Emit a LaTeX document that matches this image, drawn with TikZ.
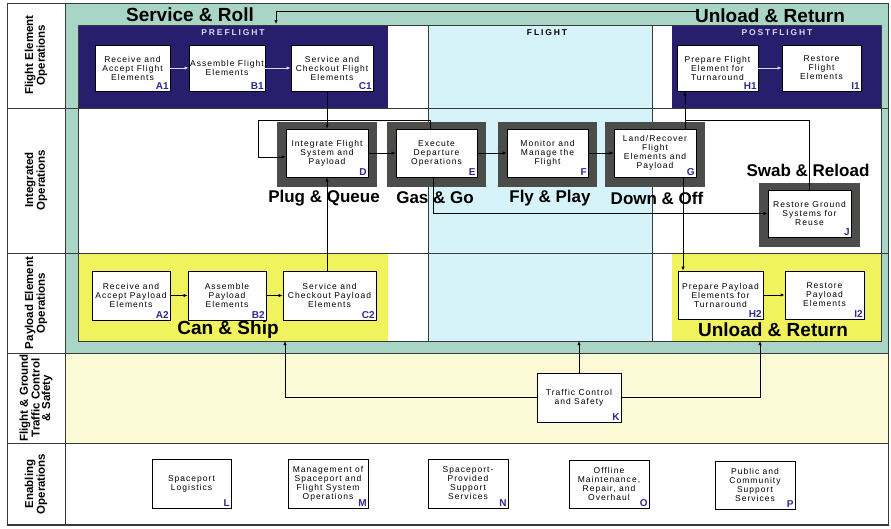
\documentclass[tikz,border=0pt]{standalone}
\usepackage{fontspec}
\setmainfont{Liberation Sans}
\newfontfamily\boxfont[LetterSpace=12]{Liberation Sans}
\newfontfamily\hdrfont[LetterSpace=22]{Liberation Sans}
\usetikzlibrary{arrows.meta,calc}
\definecolor{tealbg}{HTML}{A8D5C5}
\definecolor{navy}{HTML}{281E6E}
\definecolor{lblue}{HTML}{D7F3FA}
\definecolor{ybox}{HTML}{F0F35E}
\definecolor{lyellow}{HTML}{FCF9D7}
\definecolor{framegray}{HTML}{4B4D4B}
\definecolor{tagblue}{HTML}{2E2A90}
\definecolor{hdrtext}{HTML}{D8D8F4}
\definecolor{linegray}{HTML}{3A3A3A}
\pgfdeclarelayer{back}
\pgfdeclarelayer{mid}
\pgfsetlayers{back,mid,main}
\begin{document}
\begin{tikzpicture}[x=1pt,y=-1pt,
  box/.style={draw=black, line width=0.7pt, fill=white, align=center, inner sep=1pt,
     font=\boxfont\fontsize{8.5}{9}\selectfont},
  tag/.style={anchor=south east, inner sep=1.5pt, font=\bfseries\fontsize{10}{10}\selectfont, text=tagblue},
  big/.style={font=\bfseries\fontsize{19}{19}\selectfont, inner sep=0pt},
  bigm/.style={font=\bfseries\fontsize{17}{17}\selectfont, inner sep=0pt},
  rowlbl/.style={rotate=90, align=center, font=\bfseries\fontsize{11.5}{10.5}\selectfont, inner sep=0pt},
  hdr/.style={font=\hdrfont\bfseries\fontsize{8.5}{8.5}\selectfont, inner sep=0pt},
  conn/.style={draw=black, line width=0.6pt},
  arr/.style={conn, -{Latex[length=4pt,width=3.2pt]}},
  warr/.style={draw=hdrtext, line width=0.6pt, -{Latex[length=4pt,width=3.2pt]}},
  sep/.style={draw=linegray, line width=0.6pt},
]
\useasboundingbox (0,0) rectangle (891,528);

% ---------- backgrounds ----------
\begin{pgfonlayer}{back}
\fill[white] (0,0) rectangle (891,528);
\fill[tealbg] (65,3) rectangle (888,353);
\fill[white] (78,25) rectangle (881,341);
\fill[lblue] (428,25) rectangle (652,341);
\fill[navy] (78,25) rectangle (388,108);
\fill[navy] (672,25) rectangle (881,108);
\fill[ybox] (78,254) rectangle (388,341);
\fill[ybox] (672,254) rectangle (881,341);
\fill[lyellow] (65,353) rectangle (888,443);
\draw[sep, line width=0.4pt] (78,25) rectangle (881,341);
\draw[sep] (428,25) -- (428,341);
\draw[sep] (652,25) -- (652,341);
\draw[sep] (7,108) -- (888,108);
\draw[sep] (7,253) -- (888,253);
\draw[sep, line width=1pt] (7,353) -- (888,353);
\draw[sep, line width=1pt] (7,443) -- (888,443);
\draw[sep] (65,3) -- (65,525);
\draw[sep, line width=0.8pt] (7,3) rectangle (888,525);
\draw[sep, line width=1.8pt] (7,525) -- (888,525);
\end{pgfonlayer}

% ---------- row labels ----------
\node[rowlbl] (r1) at (36,55) {Flight Element\\Operations};
\node[rowlbl] (r2) at (36,180) {Integrated\\Operations};
\node[rowlbl] (r3) at (36,303) {Payload Element\\Operations};
\node[rowlbl] (r4) at (36,398) {Flight \& Ground\\Traffic Control\\\& Safety};
\node[rowlbl] (r5) at (36,484) {Enabling\\Operations};

% ---------- headers and big labels ----------
\node[hdr, text=hdrtext] (pre) at (233,33) {PREFLIGHT};
\node[hdr, text=hdrtext] (post) at (777,33) {POSTFLIGHT};
\node[hdr, text=black] (flt) at (547,33) {FLIGHT};
\node[big] (sr) at (190,15) {Service \& Roll};
\node[big] (ur1) at (770,16) {Unload \& Return};
\node[bigm] (pq) at (324,198) {Plug \& Queue};
\node[bigm] (gg) at (435,198) {Gas \& Go};
\node[bigm] (fp) at (550,198) {Fly \& Play};
\node[bigm] (do) at (657,198) {Down \& Off};
\node[bigm] (swr) at (808,170) {Swab \& Reload};
\node[big] (cs) at (228,330) {Can \& Ship};
\node[big] (ur2) at (773,330) {Unload \& Return};

% ---------- row 1 ----------
\node[box, minimum width=75pt, minimum height=46pt, label={[tag]south east:A1}] (A1) at (132.5,68) {Receive and\\Accept Flight\\Elements};
\node[box, minimum width=76pt, minimum height=46pt, label={[tag]south east:B1}] (B1) at (227,68) {Assemble Flight\\Elements};
\node[box, minimum width=82pt, minimum height=46pt, label={[tag]south east:C1}] (C1) at (332,68) {Service and\\Checkout Flight\\Elements};
\node[box, minimum width=81pt, minimum height=46pt, label={[tag]south east:H1}] (H1) at (717.5,68) {Prepare Flight\\Element for\\Turnaround};
\node[box, minimum width=79pt, minimum height=46pt, label={[tag]south east:I1}] (I1) at (821.5,68) {Restore\\Flight\\Elements};

% ---------- row 2 ----------
\node[box, minimum width=82pt, minimum height=48pt, label={[tag]south east:D}] (D) at (327,153) {Integrate Flight\\System and\\Payload};
\node[box, minimum width=81pt, minimum height=48pt, label={[tag]south east:E}] (E) at (436.5,153) {Execute\\Departure\\Operations};
\node[box, minimum width=81pt, minimum height=48pt, label={[tag]south east:F}] (F) at (547.5,153) {Monitor and\\Manage the\\Flight};
\node[box, minimum width=82pt, minimum height=48pt, label={[tag]south east:G}] (G) at (655,153) {Land/Recover\\Flight\\Elements and\\Payload};
\node[box, minimum width=83pt, minimum height=47pt, label={[tag]south east:J}] (J) at (809.5,213.5) {Restore Ground\\Systems for\\Reuse};

\begin{pgfonlayer}{mid}
\foreach \n in {D,E,F,G,J}
  \fill[framegray] ([shift={(-9,10)}]\n.south west) rectangle ([shift={(9,-7)}]\n.north east);
\end{pgfonlayer}

% ---------- row 3 ----------
\node[box, minimum width=78pt, minimum height=49pt, label={[tag]south east:A2}] (A2) at (131,295.5) {Receive and\\Accept Payload\\Elements};
\node[box, minimum width=78pt, minimum height=49pt, label={[tag]south east:B2}] (B2) at (227,295.5) {Assemble\\Payload\\Elements};
\node[box, minimum width=93pt, minimum height=49pt, label={[tag]south east:C2}] (C2) at (329.5,295.5) {Service and\\Checkout Payload\\Elements};
\node[box, minimum width=85pt, minimum height=48pt, label={[tag]south east:H2}] (H2) at (720.5,295) {Prepare Payload\\Elements for\\Turnaround};
\node[box, minimum width=79pt, minimum height=48pt, label={[tag]south east:I2}] (I2) at (824.5,295) {Restore\\Payload\\Elements};

% ---------- row 4 ----------
\node[box, minimum width=84pt, minimum height=49pt, label={[tag]south east:K}] (K) at (579,397.5) {Traffic Control\\and Safety};

% ---------- row 5 ----------
\node[box, minimum width=79pt, minimum height=49pt, label={[tag]south east:L}] (L) at (191.5,483.5) {Spaceport\\Logistics};
\node[box, minimum width=80pt, minimum height=49pt, label={[tag]south east:M}] (M) at (328,483.5) {Management of\\Spaceport and\\Flight System\\Operations};
\node[box, minimum width=80pt, minimum height=49pt, label={[tag]south east:N}] (N) at (468,483.5) {Spaceport-\\Provided\\Support\\Services};
\node[box, minimum width=80pt, minimum height=48pt, label={[tag]south east:O}] (O) at (609,484) {Offline\\Maintenance,\\Repair, and\\Overhaul};
\node[box, minimum width=80pt, minimum height=48pt, label={[tag]south east:P}] (P) at (755,485) {Public and\\Community\\Support\\Services};

% ---------- coordinates ----------
\coordinate (topR) at (697,11);
\coordinate (topL) at (276,24);
\coordinate (loopTL) at (258,120);
\coordinate (gx) at ([xshift=30pt]G.north);
\coordinate (gy) at ([xshift=28pt]G.south);
\coordinate (canB) at (285,341);
\coordinate (urB) at (760,341);

% ---------- connectors ----------
\draw[warr] (A1) -- (B1);
\draw[warr] (B1) -- (C1);
\draw[warr] (H1) -- (I1);
\draw[arr] (A2) -- (B2);
\draw[arr] (B2) -- (C2);
\draw[arr, line width=0.9pt] (H2) -- (I2);

\draw[arr] (topR) -| (topL);
\draw[arr] (C1.south -| D.north) -- (D.north);
\draw[arr] (C2.north -| D.south) -- (D.south);
\draw[arr] (D) -- (E);
\draw[arr] (E) -- (F);
\draw[arr] (F) -- (G);
\draw[arr] ([xshift=-6pt]E.north) |- (loopTL) |- ([yshift=-4pt]D.west);
\draw[arr] ([xshift=-3pt]E.south) |- (J.west);
\draw[arr] (gx) -- (gx |- H1.south);
\draw[arr] (gy) -- (gy |- H2.north);
\draw[conn] (J.north) |- (gx |- loopTL);

\draw[arr] (K.west) -| (canB);
\draw[arr] (K.north) -- (K.north |- canB);
\draw[arr] (K.east) -| (urB);
\end{tikzpicture}
\end{document}
